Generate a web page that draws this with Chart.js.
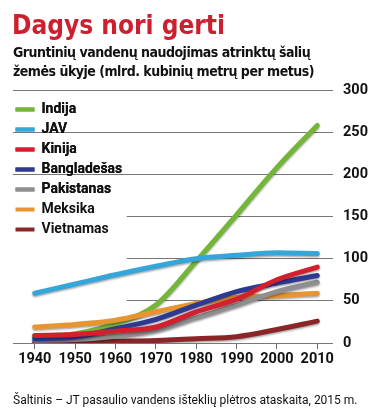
<!DOCTYPE html>
<html>
<head>
<meta charset="utf-8">
<script src="https://cdn.jsdelivr.net/npm/chart.js@4.4.1/dist/chart.umd.min.js"></script>
<style>
  body { margin: 0; background: #fff; width: 383px; height: 420px; overflow: hidden; position: relative; }
  #chart { position: absolute; left: 0; top: 0; }
  .title { position: absolute; left: 12px; top: 12px; font: bold 26px/26px "DejaVu Sans Condensed", "DejaVu Sans"; font-stretch: condensed; color: #cc1f2f; white-space: nowrap; }
  .sub { position: absolute; left: 13px; top: 43px; font: bold 14px/19px "DejaVu Sans Condensed", "DejaVu Sans"; font-stretch: condensed; letter-spacing: -0.5px; color: #111; white-space: nowrap; }
  .src { position: absolute; left: 13px; top: 393px; font: 12px/14px Roboto; color: #111; white-space: nowrap; }
</style>
</head>
<body>
<canvas id="chart" width="383" height="420"></canvas>
<div class="title">Dagys nori gerti</div>
<div class="sub">Gruntinių vandenų naudojimas atrinktų šalių<br>žemės ūkyje (mlrd. kubinių metrų per metus)</div>
<div class="src">Šaltinis – JT pasaulio vandens išteklių plėtros ataskaita, 2015 m.</div>
<script>
// metai
const years = [1940, 1950, 1960, 1970, 1980, 1990, 2000, 2010];

// mlrd. m3 per metus
const indija      = [8, 11, 23, 45, 97, 152, 208, 258];
const jav         = [59, 70, 81, 91, 100, 104, 107, 106];
const kinija      = [9, 10, 14, 19, 37, 52, 75, 90];
const bangladesas = [5, 7, 17, 28, 45, 61, 71, 80];
const pakistanas  = [3, 4, 8, 15, 30, 45, 61, 72];
const meksika     = [19, 22, 27, 37, 47, 54, 56, 59];
const vietnamas   = [1, 1, 2, 3, 5, 7.5, 16, 26];

const names  = ['Indija', 'JAV', 'Kinija', 'Bangladešas', 'Pakistanas', 'Meksika', 'Vietnamas'];
const series = [indija, jav, kinija, bangladesas, pakistanas, meksika, vietnamas];
const colors = ['#74b638', '#34a6da', '#d2202f', '#2e3a92', '#8f8f8f', '#e8952f', '#8a2628'];
const yTicks = [0, 50, 100, 150, 200, 250, 300];

const datasets = series.map((s, i) => ({
  label: names[i],
  data: years.map((y, j) => ({ x: y, y: s[j] })),
  borderColor: colors[i],
  backgroundColor: colors[i],
  borderWidth: 5,
  borderCapStyle: 'round',
  borderJoinStyle: 'round',
  cubicInterpolationMode: 'monotone',
  pointRadius: 0,
  fill: false,
  order: i == 0 ? 10 : i
}));

// seselis po linijom
const shadow = {
  id: 'shadow',
  beforeDatasetDraw(chart) {
    const c = chart.ctx;
    c.save();
    c.shadowColor = 'rgba(0,0,0,0.35)';
    c.shadowBlur = 2;
    c.shadowOffsetY = 1.5;
  },
  afterDatasetDraw(chart) {
    chart.ctx.restore();
  }
};

// legenda grafiko viduje ant balto fono
const dx = -3.5, dy = 6.5;
let shiftY = 0;
const legendBg = {
  id: 'legendBg',
  afterLayout(chart) {
    const lg = chart.legend;
    const newTop = chart.chartArea.top + dy;
    shiftY = newTop - lg.top;
    lg.bottom += shiftY;
    lg.top = newTop;
    lg.left += dx; lg.right += dx;
  },
  beforeDatasetsDraw(chart) {
    const lg = chart.legend, hb = lg.legendHitBoxes, c = chart.ctx;
    if (!hb || !hb.length) return;
    const x0 = chart.chartArea.left;
    const x1 = Math.max(...hb.map(h => h.left + h.width)) + dx + 8;
    const y0 = hb[0].top + shiftY - 5;
    const last = hb[hb.length - 1];
    const y1 = last.top + last.height + shiftY + 5;
    c.save();
    c.fillStyle = '#fff';
    c.fillRect(x0, y0, x1 - x0, y1 - y0);
    c.restore();
    lg.draw();
  }
};

const tickFont = { family: 'Roboto', weight: 'bold', size: 14.5 };

new Chart(document.getElementById('chart'), {
  type: 'line',
  data: { datasets: datasets },
  plugins: [shadow, legendBg],
  options: {
    responsive: false,
    devicePixelRatio: 1,
    animation: false,
    layout: { padding: { top: 90, left: 13, right: 0, bottom: 0 } },
    plugins: {
      tooltip: { enabled: false },
      legend: {
        position: 'chartArea',
        align: 'start',
        labels: {
          usePointStyle: true,
          pointStyle: 'line',
          pointStyleWidth: 19,
          padding: 6,
          color: '#111',
          font: { family: 'Roboto', weight: 'bold', size: 14 },
          sort: (a, b) => a.datasetIndex - b.datasetIndex,
          generateLabels(chart) {
            const items = Chart.defaults.plugins.legend.labels.generateLabels(chart);
            items.forEach(it => { it.lineWidth = 4; });
            return items;
          }
        }
      }
    },
    scales: {
      x: {
        type: 'linear',
        min: 1934.6,
        max: 2013.9,
        afterBuildTicks(scale) {
          scale.ticks = years.map(v => ({ value: v }));
        },
        afterFit(scale) { scale.height = 77; },
        border: { display: false },
        grid: { drawOnChartArea: false, drawTicks: true, tickLength: 6, color: '#666' },
        ticks: {
          padding: 2,
          color: '#111',
          font: tickFont,
          maxRotation: 0,
          callback: v => String(v)
        }
      },
      y: {
        position: 'right',
        min: 0,
        max: 300,
        afterBuildTicks(scale) {
          scale.ticks = yTicks.map(v => ({ value: v }));
        },
        afterFit(scale) { scale.width = 50; },
        border: { display: false },
        grid: { color: '#777', lineWidth: 1, drawTicks: false },
        ticks: {
          padding: 10,
          color: '#111',
          font: tickFont,
          callback: v => String(v)
        }
      }
    }
  }
});
</script>
</body>
</html>
